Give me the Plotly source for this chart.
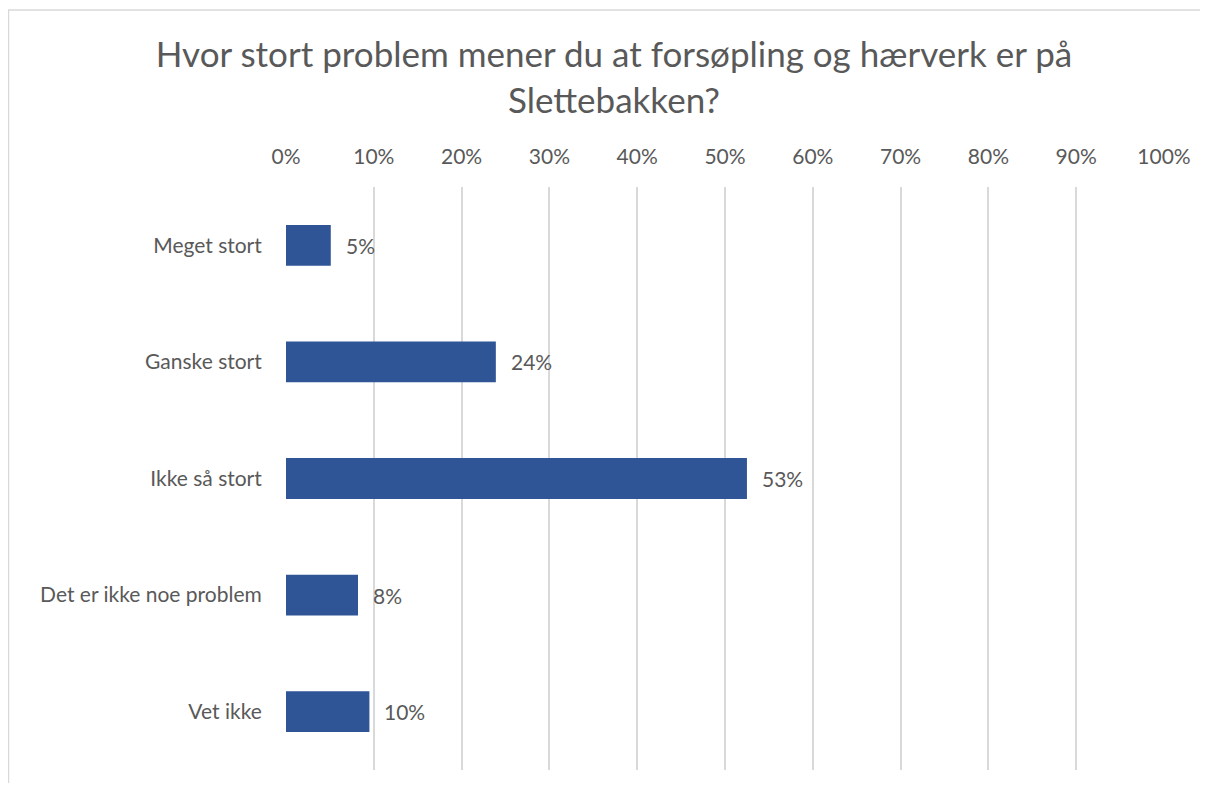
import plotly.graph_objects as go

categories = ["Meget stort", "Ganske stort", "Ikke så stort", "Det er ikke noe problem", "Vet ikke"]
values = [5.1, 23.9, 52.5, 8.2, 9.5]
labels = ["5%", "24%", "53%", "8%", "10%"]
tick_vals = [0, 10, 20, 30, 40, 50, 60, 70, 80, 90, 100]
tick_text = ["0%", "10%", "20%", "30%", "40%", "50%", "60%", "70%", "80%", "90%", "100%"]
title_text = "Hvor stort problem mener du at forsøpling og hærverk er på<br>Slettebakken?"

FONT = "Lato, 'Open Sans', sans-serif"
GREY = "#595959"

# page has an 8px body margin; figure sized to fit inside the window without scrolling
OFF = 8
W, H = 1208 - OFF, 791 - 2 * OFF
L, R, T = 286 - OFF, 1208 - 1164, 187 - OFF
B = H - (770 - OFF)
pw, ph = W - L - R, H - T - B

def px_x(p):  # page pixel -> paper
    return (p - OFF - L) / pw

def px_y(p):
    return (H - B - (p - OFF)) / ph

fig = go.Figure()
fig.add_trace(go.Bar(
    x=values, y=categories, orientation="h",
    marker=dict(color="#2F5597", line=dict(width=0)),
    hoverinfo="skip",
))

annotations = []
for c, v, t in zip(categories, values, labels):
    annotations.append(dict(
        x=v, y=c, xref="x", yref="y", text=t, showarrow=False,
        xanchor="left", yanchor="middle", xshift=13,
        font=dict(family=FONT, size=21, color=GREY),
    ))

shapes = [
    dict(type="rect", xref="paper", yref="paper",
         x0=px_x(8.5), x1=px_x(1260), y0=px_y(840), y1=px_y(10),
         line=dict(color="#d9d9d9", width=1.5), fillcolor="rgba(0,0,0,0)", layer="below"),
    dict(type="circle", xref="paper", yref="paper",
         x0=px_x(1158), x1=px_x(1302), y0=px_y(12), y1=px_y(-132),
         line=dict(width=0), fillcolor="#4B3A8C"),
]

fig.update_layout(
    width=W, height=H,
    margin=dict(l=L, r=R, t=T, b=B, autoexpand=False),
    paper_bgcolor="white", plot_bgcolor="white",
    title=dict(text=title_text, x=(614 - OFF) / W, xanchor="center", xref="container",
               y=1 - (67 - OFF) / H, yanchor="middle",
               font=dict(family=FONT, size=35, color=GREY)),
    bargap=0.65,
    showlegend=False,
    annotations=annotations,
    shapes=shapes,
    xaxis=dict(
        side="top", range=[0, 100], tickvals=tick_vals, ticktext=tick_text,
        showgrid=True, gridcolor="#d9d9d9", gridwidth=1.5,
        zeroline=False, showline=False,
        ticks="outside", ticklen=14, tickcolor="rgba(0,0,0,0)",
        tickfont=dict(family=FONT, size=21, color=GREY),
        fixedrange=True,
    ),
    yaxis=dict(
        autorange="reversed", showgrid=False, zeroline=False, showline=False,
        ticks="outside", ticklen=19, tickcolor="rgba(0,0,0,0)",
        tickfont=dict(family=FONT, size=21, color=GREY),
        fixedrange=True,
    ),
)

fig.write_html("out.html")
